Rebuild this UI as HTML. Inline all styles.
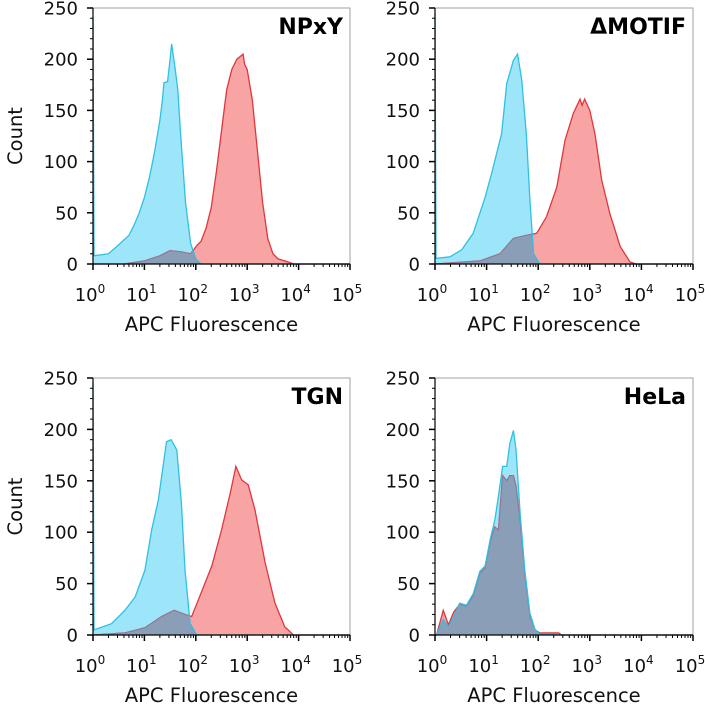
<!DOCTYPE html>
<html><head><meta charset="utf-8"><style>
html,body{margin:0;padding:0;background:#fff;}
svg{display:block;font-family:"DejaVu Sans","Liberation Sans",sans-serif;}
</style></head><body>
<svg id="chart" width="705" height="718" viewBox="0 0 705 718" xmlns="http://www.w3.org/2000/svg"></svg>
<script>
// Data: x in log10(APC fluorescence), y = counts
const npxyCyanX=[0,0.02,0.3,0.46,0.7,0.8,0.9,1.0,1.1,1.2,1.3,1.35,1.38,1.45,1.5,1.53,1.6,1.65,1.7,1.8,1.9,2.0,2.1,5];
const npxyCyanY=[240,8,10,17,28,38,50,65,85,110,140,160,177,178,200,215,190,170,130,60,20,5,0,0];
const npxyRedX=[0,0.6,1.0,1.3,1.5,1.7,1.9,2.02,2.1,2.2,2.3,2.4,2.5,2.6,2.7,2.8,2.92,2.95,3.0,3.1,3.2,3.3,3.4,3.5,3.6,3.8,3.9,5];
const npxyRedY=[0,0,3,8,13,12,10,18,22,35,55,90,130,170,190,200,205,195,190,160,110,60,25,10,5,2,0,0];

const motifCyanX=[0,0.02,0.29,0.52,0.74,0.97,1.1,1.29,1.39,1.52,1.6,1.68,1.77,1.84,1.91,2.03,5];
const motifCyanY=[245,5.5,7,14,30,65,89,127,176,199,205,180,127,62,10,0,0];
const motifRedX=[0,0.87,1.26,1.52,1.77,1.97,2.16,2.36,2.52,2.68,2.81,2.85,2.9,3.0,3.1,3.23,3.39,3.59,3.78,3.9,5];
const motifRedY=[0,3,10,25,28,30,46,75,121,147,161,155,161,150,127,82,49,17,2,0,0];

const tgnCyanX=[0,0.02,0.36,0.62,0.82,1.01,1.14,1.27,1.43,1.52,1.63,1.72,1.79,1.89,2.02,5];
const tgnCyanY=[245,5,11,24,37,63,102,131,188,190,180,128,63,11,0,0];
const tgnRedX=[0,0.62,1.01,1.34,1.58,1.79,1.92,2.08,2.31,2.5,2.67,2.78,2.89,3.02,3.15,3.35,3.54,3.73,3.9,5];
const tgnRedY=[0,2,7,18,24,20,18,38,67,102,138,164,151,146,122,70,31,8,0,0];

const helaCyanX=[0,0.03,0.16,0.26,0.36,0.48,0.61,0.74,0.87,0.97,1.07,1.16,1.23,1.31,1.39,1.45,1.52,1.57,1.65,1.74,1.84,1.94,2.03,2.3,2.35,5];
const helaCyanY=[0,0,15,8,18,31,29,40,62,67,93,112,135,164,164,186,199,180,118,63,21,5,1,1,0,0];
const helaRedX=[0,0.03,0.16,0.26,0.36,0.48,0.61,0.74,0.87,0.97,1.07,1.16,1.23,1.31,1.39,1.45,1.52,1.57,1.65,1.74,1.84,1.94,2.03,2.4,2.45,5];
const helaRedY=[0,0,24,10,22,30,28,38,60,65,90,105,102,155,150,155,155,145,110,58,18,5,2,2,0,0];

const panelTitles=["NPxY","\u0394MOTIF","TGN","HeLa"];
const yTicks=[0,50,100,150,200,250];
const xDecades=[0,1,2,3,4,5];

const NS="http://www.w3.org/2000/svg";
const svg=document.getElementById('chart');
function mk(tag,attrs,parent){const e=document.createElementNS(NS,tag);for(const k in attrs)e.setAttribute(k,attrs[k]);(parent||svg).appendChild(e);return e;}
function interp(xs,ys,x){if(x<=xs[0])return ys[0];for(let i=1;i<xs.length;i++){if(x<=xs[i]){const t=(x-xs[i-1])/(xs[i]-xs[i-1]||1);return ys[i-1]+t*(ys[i]-ys[i-1]);}}return ys[ys.length-1];}

const panels=[
 {x0:93,y0:264,w:257,h:256,cx:npxyCyanX,cy:npxyCyanY,rx:npxyRedX,ry:npxyRedY,showY:true,key:'npxy'},
 {x0:435,y0:264,w:258,h:256,cx:motifCyanX,cy:motifCyanY,rx:motifRedX,ry:motifRedY,showY:false,key:'motif'},
 {x0:93,y0:635,w:257,h:257,cx:tgnCyanX,cy:tgnCyanY,rx:tgnRedX,ry:tgnRedY,showY:true,key:'tgn'},
 {x0:435,y0:635,w:258,h:257,cx:helaCyanX,cy:helaCyanY,rx:helaRedX,ry:helaRedY,showY:false,key:'hela'}
];

panels.forEach((p,pi)=>{
 const g=mk('g',{});
 
 
 const sx=l=>p.x0+l*p.w/5;
 const sy=c=>p.y0-c*p.h/250;
 // frame
 const fr=mk('rect',{x:p.x0,y:p.y0-p.h,width:p.w,height:p.h,fill:'none',stroke:'#a0a0a0','stroke-width':1},g);
 
 
 function area(xs,ys){let d='M'+sx(xs[0])+','+sy(0);for(let i=0;i<xs.length;i++)d+=' L'+sx(xs[i]).toFixed(2)+','+sy(ys[i]).toFixed(2);d+=' L'+sx(xs[xs.length-1])+','+sy(0)+' Z';return d;}
 function line(xs,ys){let d='';for(let i=0;i<xs.length;i++)d+=(i?' L':'M')+sx(xs[i]).toFixed(2)+','+sy(ys[i]).toFixed(2);return d;}
 const cf=mk('path',{d:area(p.cx,p.cy),fill:'#9de6f9',stroke:'none'},g);
 
 
 const rf=mk('path',{d:area(p.rx,p.ry),fill:'#f9a4a4',stroke:'none'},g);
 
 
 const rl=mk('path',{d:line(p.rx,p.ry),fill:'none',stroke:'#e0363c','stroke-width':1.3},g);
 
 
 // overlap
 const ox=[],oy=[];
 for(let l=0.02;l<=5.0001;l+=0.01){ox.push(l);oy.push(Math.min(interp(p.cx,p.cy,l),interp(p.rx,p.ry,l)));}
 const of=mk('path',{d:area(ox,oy),fill:'#849fb8',stroke:'#8a7b9c','stroke-width':1,'fill-opacity':0.95},g);
 
 
 const cl=mk('path',{d:line(p.cx,p.cy),fill:'none',stroke:'#2fc0e2','stroke-width':1.3},g);
 
 
 // axes
 const ya=mk('line',{x1:p.x0,y1:p.y0,x2:p.x0,y2:p.y0-p.h,stroke:'#000','stroke-width':1.2},g);
 
 
 const xa=mk('line',{x1:p.x0,y1:p.y0,x2:p.x0+p.w,y2:p.y0,stroke:'#000','stroke-width':1.2},g);
 
 
 for(let v=0;v<=250;v+=10){const maj=v%50===0;mk('line',{x1:p.x0-(maj?6:3),x2:p.x0,y1:sy(v),y2:sy(v),stroke:'#000','stroke-width':maj?1.5:1},g);}
 yTicks.forEach(v=>{const t=mk('text',{x:p.x0-15,y:sy(v)+6.5,'text-anchor':'end','font-size':18,fill:'#111'},g);t.textContent=v;
  
  });
 xDecades.forEach(d=>{
  mk('line',{x1:sx(d),x2:sx(d),y1:p.y0,y2:p.y0+6,stroke:'#000','stroke-width':1.5},g);
  if(d<5)for(let m=2;m<=9;m++){const xx=sx(d+Math.log10(m));mk('line',{x1:xx,x2:xx,y1:p.y0,y2:p.y0+3,stroke:'#000','stroke-width':1},g);}
  const t=mk('text',{x:sx(d)-3,y:p.y0+37,'text-anchor':'middle','font-size':18,fill:'#111'},g);
  
  
  t.textContent='10';
  const s=mk('tspan',{dy:-8,'font-size':12},t);s.textContent=String(d);
 });
 const xt=mk('text',{x:p.x0+p.w/2-10,y:p.y0+67,'text-anchor':'middle','font-size':19.5,fill:'#111'},g);
 xt.textContent='APC Fluorescence';
 
 
 if(p.showY){
  const cyy=p.y0-p.h/2;
  const yt=mk('text',{x:0,y:0,transform:'translate(22,'+cyy+') rotate(-90)','text-anchor':'middle','font-size':19.5,fill:'#111'},g);
  yt.textContent='Count';
  
  
 }
 const tt=mk('text',{x:p.x0+p.w-7,y:p.y0-p.h+26,'text-anchor':'end','font-size':22,'font-weight':'bold',fill:'#000'},g);
 tt.textContent=panelTitles[pi];
 
 
});
</script>
</body></html>
